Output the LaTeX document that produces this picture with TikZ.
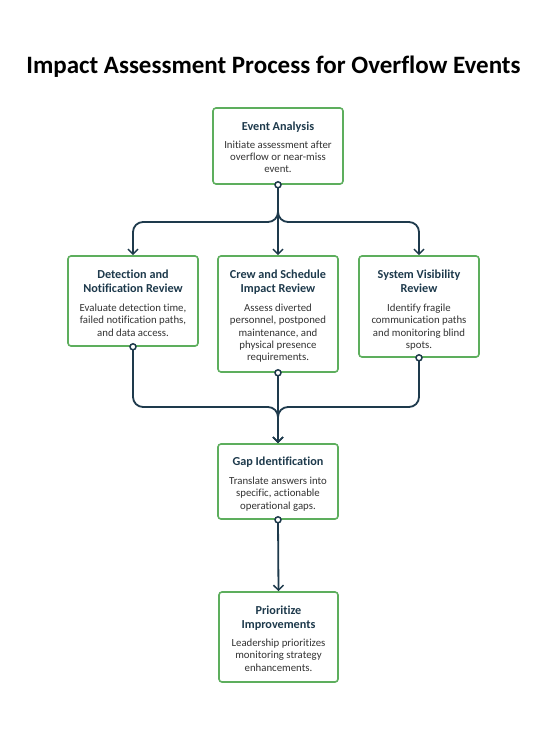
\documentclass[tikz,border=0pt]{standalone}
\usepackage{fontspec}
\setmainfont[Ligatures=NoCommon]{Carlito}
\usetikzlibrary{arrows.meta}
\definecolor{navy}{HTML}{1E3A4C}
\definecolor{boxgreen}{HTML}{5DAE5D}
\definecolor{desc}{HTML}{333333}
\tikzset{
  box/.style={draw=boxgreen, line width=1.6pt, rounded corners=3pt, fill=white, inner sep=0pt},
  ttl/.style={font=\fontsize{12.2}{14}\selectfont\bfseries, text=navy, align=center, inner sep=0pt, anchor=north},
  dsc/.style={font=\fontsize{10.8}{12.4}\selectfont, text=desc, align=center, inner sep=0pt, anchor=north},
  conn/.style={draw=navy, line width=1.8pt, rounded corners=10pt},
  tip/.style={-{Straight Barb[length=5pt,width=10pt,line width=1.5pt]}},
  dot/.style={circle, draw=navy, line width=1.5pt, fill=white, minimum size=6pt, inner sep=0pt}
}
\begin{document}
\begin{tikzpicture}[x=1pt,y=-1pt]
\useasboundingbox (0,0) rectangle (547,737);
\fill[white] (0,0) rectangle (547,737);
\node[font=\fontsize{25}{27}\selectfont\bfseries, text=black] (title) at (273.5,66.5) {Impact Assessment Process for Overflow Events};

% boxes
\node[box, minimum width=130pt, minimum height=76pt] (ea) at (278,146) {};
\node[box, minimum width=130pt, minimum height=90pt] (det) at (133,301) {};
\node[box, minimum width=120pt, minimum height=116pt] (crew) at (278,314) {};
\node[box, minimum width=120pt, minimum height=101pt] (sys) at (419,306.5) {};
\node[box, minimum width=120pt, minimum height=75pt] (gap) at (278,481.5) {};
\node[box, minimum width=119pt, minimum height=90pt] (pri) at (278.5,637) {};

% texts
\node[ttl] (eat) at (278,121.5) {Event Analysis};
\node[dsc] (ead) at (278,140.5) {Initiate assessment after\\overflow or near-miss\\event.};
\node[ttl] (dett) at (133,269.5) {Detection and\\Notification Review};
\node[dsc] (detd) at (133,303.5) {Evaluate detection time,\\failed notification paths,\\and data access.};
\node[ttl] (crewt) at (278,269.5) {Crew and Schedule\\Impact Review};
\node[dsc] (crewd) at (278,303.5) {Assess diverted\\personnel, postponed\\maintenance, and\\physical presence\\requirements.};
\node[ttl] (syst) at (419,269.5) {System Visibility\\Review};
\node[dsc] (sysd) at (419,303.5) {Identify fragile\\communication paths\\and monitoring blind\\spots.};
\node[ttl] (gapt) at (278,457) {Gap Identification};
\node[dsc] (gapd) at (278,476.5) {Translate answers into\\specific, actionable\\operational gaps.};
\node[ttl] (prit) at (278.5,605.5) {Prioritize\\Improvements};
\node[dsc] (prid) at (278.5,638.5) {Leadership prioritizes\\monitoring strategy\\enhancements.};

% connectors top fan-out
\draw[conn, tip] (ea.south) -- (278,222) -| (det.north);
\draw[conn, tip] (ea.south) -- (278,222) -| (sys.north);
\draw[conn, tip] (ea.south) -- (crew.north);

% fan-in
\draw[conn, tip] (det.south) |- (278,407) -- (gap.north);
\draw[conn, tip] (sys.south) |- (278,407) -- (gap.north);
\draw[conn, tip] (crew.south) -- (gap.north);

\draw[conn, tip] (gap.south) -- (pri.north);

% dots
\node[dot] (d1) at (ea.south) {};
\node[dot] (d2) at (det.south) {};
\node[dot] (d3) at (crew.south) {};
\node[dot] (d4) at (sys.south) {};
\node[dot] (d5) at (gap.south) {};
\end{tikzpicture}
\end{document}
